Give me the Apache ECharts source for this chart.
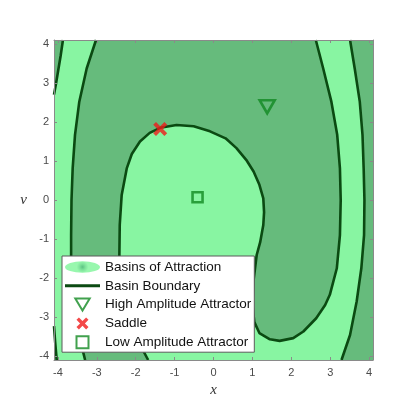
<!DOCTYPE html>
<html>
<head>
<meta charset="utf-8">
<script src="https://cdn.jsdelivr.net/npm/echarts@6/dist/echarts.min.js"></script>
<style>html,body{margin:0;padding:0;background:#fff;}#c{width:415px;height:415px;}</style>
</head>
<body>
<div id="c"></div>
<script>
// ---- data ----
const xRange = [-4.1, 4.1];
const vRange = [-4.1, 4.1];
const tickValues = [-4, -3, -2, -1, 0, 1, 2, 3, 4];

// boundary curves, [x, v]
const curveA = [[-3.87,4.1],[-3.93,3.69],[-3.99,3.33],[-4.05,2.97],[-4.1,2.70]];
const curveF = [[-4.1,-3.23],[-4.07,-3.64],[-4.03,-4.1]];
const curveB = [[-3.02,4.1],[-3.26,3.37],[-3.45,2.52],[-3.56,1.67],[-3.62,0.81],[-3.65,0],
  [-3.66,-0.9],[-3.66,-1.44],[-3.63,-2.26],[-3.55,-2.97],[-3.44,-3.54],[-3.30,-4.1]];
const curveC = [[-1.68,-4.1],[-1.95,-3.59],[-2.17,-3.08],[-2.34,-2.36],[-2.42,-1.44],[-2.41,-0.64],
  [-2.36,0.13],[-2.23,0.81],[-2.10,1.18],[-1.89,1.50],[-1.64,1.72],[-1.37,1.85],[-0.95,1.92],
  [-0.51,1.89],[-0.09,1.76],[0.31,1.58],[0.59,1.33],[0.84,1.03],[1.03,0.73],[1.18,0.39],[1.28,0.04],
  [1.30,-0.31],[1.28,-0.64],[1.20,-1.08],[1.11,-1.41],[1.03,-2.05],[1.0,-2.67],[1.05,-3.13],
  [1.18,-3.41],[1.45,-3.57],[1.70,-3.61],[2.05,-3.54],[2.31,-3.37],[2.64,-3.03],[2.87,-2.69],
  [2.99,-2.43],[3.17,-1.75],[3.25,-0.90],[3.27,0],[3.25,0.81],[3.18,1.67],[3.03,2.52],
  [2.82,3.37],[2.63,4.1]];
const curveE = [[3.51,4.1],[3.63,3.37],[3.76,2.52],[3.83,1.67],[3.86,0.81],[3.88,0],[3.87,-0.9],
  [3.80,-1.75],[3.68,-2.60],[3.51,-3.46],[3.29,-4.1]];

// attractors / saddle
const highAmp = [[1.38, 2.39]];
const saddle = [[-1.37, 1.82]];
const lowAmp = [[-0.41, 0.07]];

// ---- regions built from the curves ----
const darkRegion = [[xRange[0],vRange[0]],[xRange[1],vRange[0]],[xRange[1],vRange[1]],[xRange[0],vRange[1]]];
const lightRegion1 = curveA.concat(curveF, curveB.slice().reverse());
const lightRegion2 = curveC.concat(curveE);
const regions = [darkRegion, lightRegion1, lightRegion2];

const DARK = '#66BB7C', LIGHT = '#88F5A2', LINE = '#0B4A12', MARK = '#128A22', RED = '#F01A1A';
const regionColors = [DARK, LIGHT, LIGHT];

const chart = echarts.init(document.getElementById('c'), null, {renderer: 'canvas'});

const axisCommon = {
  type: 'value', min: xRange[0], max: xRange[1], z: 10,
  axisLine: {show: true, onZero: false, lineStyle: {color: '#8a8a8a', width: 1}},
  axisTick: {show: true, inside: true, length: 3, customValues: tickValues, lineStyle: {color: '#8a8a8a'}},
  splitLine: {show: false}
};
const labelStyle = {color: '#4a4a4a', fontSize: 11, fontFamily: 'Liberation Sans, Arial, sans-serif', customValues: tickValues};

const boundarySeries = [curveA, curveF, curveB, curveC, curveE].map(c => ({
  name: 'Basin Boundary', type: 'line', data: c, showSymbol: false, symbol: 'none',
  smooth: false, clip: true, silent: true, z: 3,
  itemStyle: {color: LINE},
  lineStyle: {color: LINE, width: 2.6}
}));

const xPath = 'path://M2,0 L5,3 L8,0 L10,2 L7,5 L10,8 L8,10 L5,7 L2,10 L0,8 L3,5 L0,2 Z';
const triPath = 'path://M0,0 L12,0 L6,10 Z';
const sqPath = 'path://M0,0 L10,0 L10,10 L0,10 Z';

chart.setOption({
  animation: false,
  backgroundColor: '#fff',
  grid: {left: 54, right: 42, top: 40, bottom: 55},
  xAxis: [
    Object.assign({}, axisCommon, {
      position: 'bottom',
      name: 'x', nameLocation: 'middle', nameGap: 19,
      nameTextStyle: {fontFamily: 'Liberation Serif, DejaVu Serif, serif', fontStyle: 'italic', fontSize: 15, color: '#333'},
      axisLabel: Object.assign({margin: 7}, labelStyle)
    }),
    Object.assign({}, axisCommon, {position: 'top', axisLabel: {show: false}})
  ],
  yAxis: [
    Object.assign({}, axisCommon, {
      min: vRange[0], max: vRange[1], position: 'left',
      name: 'v', nameLocation: 'middle', nameGap: 27, nameRotate: 0,
      nameTextStyle: {fontFamily: 'Liberation Serif, DejaVu Serif, serif', fontStyle: 'italic', fontSize: 15, color: '#333'},
      axisLabel: Object.assign({margin: 5}, labelStyle)
    }),
    Object.assign({}, axisCommon, {min: vRange[0], max: vRange[1], position: 'right', axisLabel: {show: false}})
  ],
  legend: {
    orient: 'vertical', left: 62, top: 256, z: 20,
    backgroundColor: '#fff', borderColor: '#5a5a5a', borderWidth: 1, borderRadius: 0,
    padding: [4, 3, 3, 3], itemGap: 4.8, itemWidth: 35, itemHeight: 12, itemTextGap: 5,
    selectedMode: false, symbolKeepAspect: true,
    textStyle: {fontSize: 13.5, color: '#111', fontFamily: 'Liberation Sans, Arial, sans-serif'},
    data: [
      {name: 'Basins of Attraction',
       icon: 'path://M0,5 A15,5 0 1,0 30,5 A15,5 0 1,0 0,5 Z',
       itemStyle: {color: {type: 'radial', x: 0.5, y: 0.5, r: 0.5,
         colorStops: [{offset: 0, color: '#5DC283'}, {offset: 0.5, color: '#7EE39B'}, {offset: 1, color: '#98F7AE'}]},
         borderWidth: 0}},
      {name: 'Basin Boundary', icon: 'path://M0,0 L35,0 L35,3 L0,3 Z',
       itemStyle: {color: LINE, borderWidth: 0}},
      {name: 'High Amplitude Attractor', icon: triPath, symbolRotate: 0},
      {name: 'Saddle', icon: xPath, symbolRotate: 0},
      {name: 'Low Amplitude Attractor', icon: sqPath, symbolRotate: 0}
    ]
  },
  series: [
    {
      name: 'Basins of Attraction', type: 'custom', coordinateSystem: 'cartesian2d',
      data: regions.map((r, i) => [i, 0]), clip: true, silent: true, z: 1,
      itemStyle: {color: LIGHT},
      renderItem: function (params, api) {
        const pts = regions[params.dataIndex].map(p => api.coord(p));
        return {type: 'polygon', shape: {points: pts}, style: {fill: regionColors[params.dataIndex], stroke: null}};
      }
    }
  ].concat(boundarySeries, [
    {
      name: 'High Amplitude Attractor', type: 'scatter', data: highAmp, z: 5,
      symbol: triPath, symbolSize: [15, 13], symbolKeepAspect: false,
      itemStyle: {color: 'rgba(0,0,0,0)', borderColor: MARK, borderWidth: 2.6}
    },
    {
      name: 'Saddle', type: 'scatter', data: saddle, z: 6,
      symbol: xPath, symbolSize: 14,
      itemStyle: {color: RED, borderWidth: 0}
    },
    {
      name: 'Low Amplitude Attractor', type: 'scatter', data: lowAmp, z: 5,
      symbol: sqPath, symbolSize: 10,
      itemStyle: {color: 'rgba(0,0,0,0)', borderColor: MARK, borderWidth: 2.6}
    }
  ])
});
</script>
</body>
</html>
